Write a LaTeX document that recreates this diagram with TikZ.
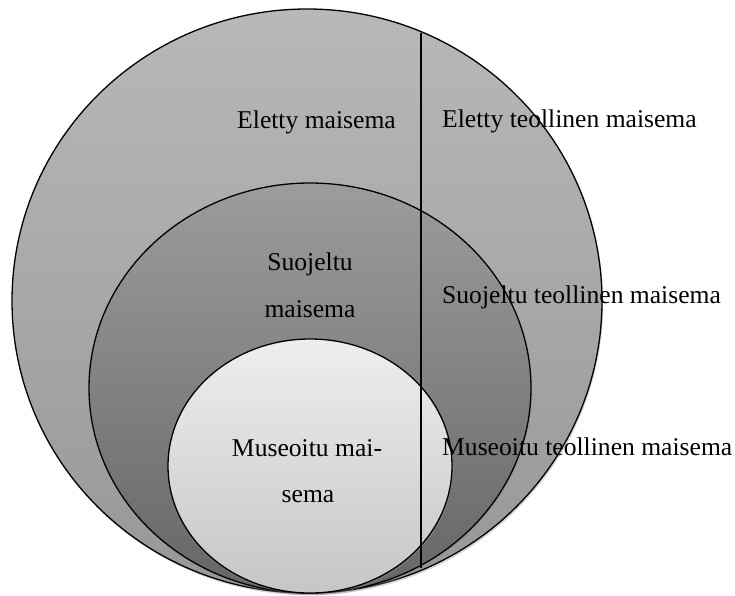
\documentclass[tikz,border=0pt]{standalone}
\usepackage{fontspec}
\setmainfont{Liberation Serif}
\usetikzlibrary{shadows}
\definecolor{outerTop}{HTML}{B8B8B8}
\definecolor{outerBot}{HTML}{979797}
\definecolor{midTop}{HTML}{9C9C9C}
\definecolor{midBot}{HTML}{666666}
\definecolor{innTop}{HTML}{EEEEEE}
\definecolor{innBot}{HTML}{C6C6C6}
\tikzset{
  region/.style={draw=black, line width=1.3pt,
    drop shadow={opacity=0.35, shadow xshift=1.2pt, shadow yshift=-2.2pt, fill=black!45}},
  lbl/.style={inner sep=0pt, font=\fontsize{25.6}{30}\selectfont},
  divider/.style={draw=black, line width=1.3pt}
}
\begin{document}
\begin{tikzpicture}[x=1pt,y=-1pt]
\useasboundingbox (0,0) rectangle (735,595);
% outer region
\path[region, top color=outerTop, bottom color=outerBot]
  (307,301) ellipse [x radius=295, y radius=292];
% middle region
\path[region, top color=midTop, bottom color=midBot]
  (310,388) ellipse [x radius=221, y radius=205];
% inner region
\path[region, top color=innTop, bottom color=innBot]
  (310,466) ellipse [x radius=142, y radius=127];
% divider
\coordinate (lt) at (421,33);
\coordinate (lb) at (421,568);
\draw[divider] (lt) -- (lb);
% labels
\node[lbl, anchor=base] (em) at (316.5,128) {Eletty maisema};
\node[lbl, anchor=base west] (etm) at (442,127) {Eletty teollinen maisema};
\node[lbl, anchor=base] (sm1) at (310,270) {Suojeltu};
\node[lbl, anchor=base] (sm2) at (310,317) {maisema};
\node[lbl, anchor=base west] (stm) at (442,303) {Suojeltu teollinen maisema};
\node[lbl, anchor=base] (mm1) at (307,456) {Museoitu mai-};
\node[lbl, anchor=base] (mm2) at (308,502) {sema};
\node[lbl, anchor=base west] (mtm) at (442,455) {Museoitu teollinen maisema};
\end{tikzpicture}
\end{document}
